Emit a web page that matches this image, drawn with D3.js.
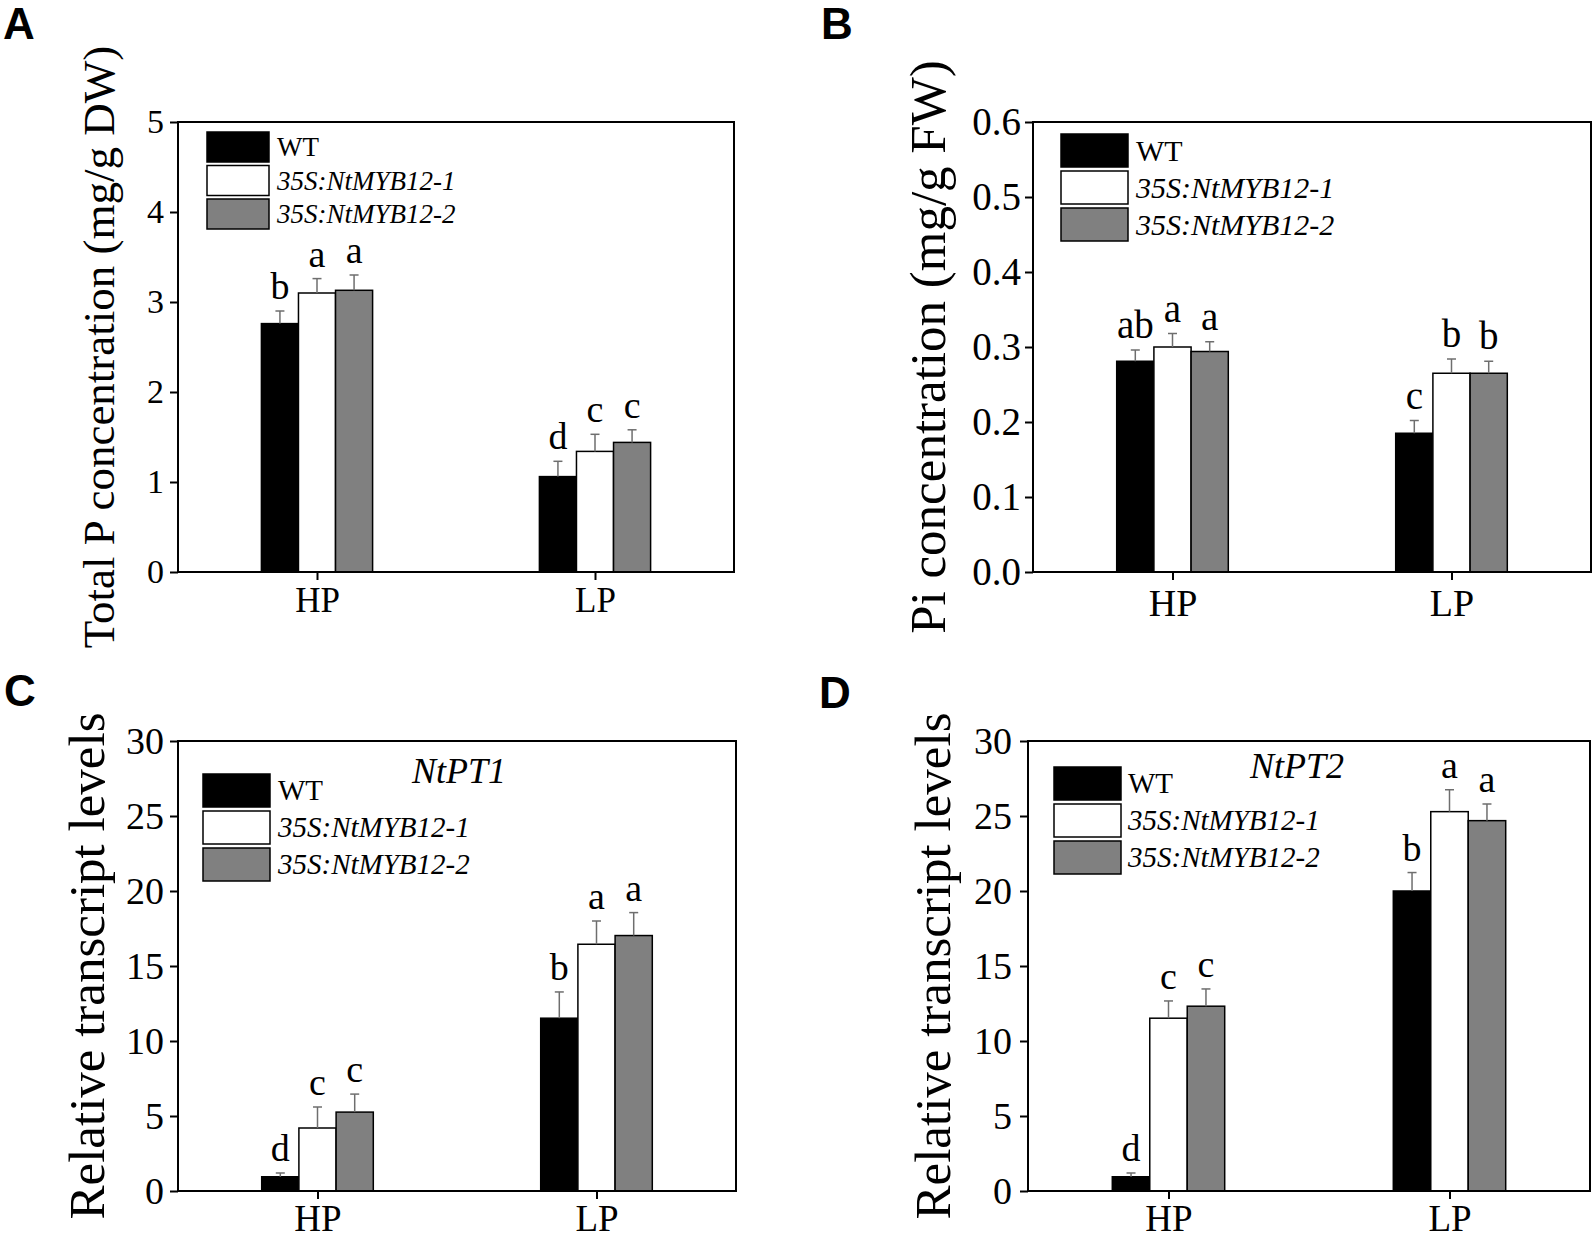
<!DOCTYPE html>
<html>
<head>
<meta charset="utf-8">
<script src="https://cdn.jsdelivr.net/npm/d3@7"></script>
<style>
  body { margin: 0; background: #fff; }
  text { font-family: "Liberation Serif", "Times New Roman", serif; fill: #000; }
  .panelLetter { font-family: "Liberation Sans", Arial, sans-serif; font-weight: bold; }
</style>
</head>
<body>
<svg id="fig" width="1594" height="1239"></svg>
<script>
"use strict";

// categories
const groups = [ 'HP', 'LP' ];
const lines  = [ 'WT', '35S:NtMYB12-1', '35S:NtMYB12-2' ];
const fills  = [ '#000000', '#ffffff', '#808080' ];

// A: total P (mg/g DW), rows = HP / LP, columns = lines
const totalPMean    = [ [ 2.76, 3.10, 3.13 ], [ 1.06, 1.34, 1.44 ] ];
const totalPErr     = [ [ 0.14, 0.16, 0.17 ], [ 0.17, 0.19, 0.14 ] ];
const totalPLetters = [ [ 'b', 'a', 'a' ], [ 'd', 'c', 'c' ] ];

// B: Pi (mg/g FW)
const piMean    = [ [ 0.281, 0.300, 0.294 ], [ 0.185, 0.265, 0.265 ] ];
const piErr     = [ [ 0.015, 0.018, 0.013 ], [ 0.017, 0.019, 0.016 ] ];
const piLetters = [ [ 'ab', 'a', 'a' ], [ 'c', 'b', 'b' ] ];

// C: NtPT1 relative transcript
const pt1Mean    = [ [ 0.95, 4.20, 5.26 ], [ 11.52, 16.45, 17.03 ] ];
const pt1Err     = [ [ 0.25, 1.40, 1.20 ], [ 1.75, 1.55, 1.53 ] ];
const pt1Letters = [ [ 'd', 'c', 'c' ], [ 'b', 'a', 'a' ] ];

// D: NtPT2 relative transcript
const pt2Mean    = [ [ 0.95, 11.52, 12.32 ], [ 20.00, 25.29, 24.69 ] ];
const pt2Err     = [ [ 0.25, 1.15, 1.15 ], [ 1.23, 1.46, 1.11 ] ];
const pt2Letters = [ [ 'd', 'c', 'c' ], [ 'b', 'a', 'a' ] ];

// tick values
const ticksA  = [ 0, 1, 2, 3, 4, 5 ];
const ticksB  = [ 0, 0.1, 0.2, 0.3, 0.4, 0.5, 0.6 ];
const ticksCD = [ 0, 5, 10, 15, 20, 25, 30 ];

// panel layout
const panels = [
  { key: 'A', lx: 3,   ly: 39,  x0: 178,  x1: 734,  y0: 122, y1: 572,  ticks: ticksA, fmt: d3.format( 'd' ),
    mean: totalPMean, err: totalPErr, letters: totalPLetters,
    tickFont: 34, tickPad: 6, catFont: 35, catY: 40, letterFont: 38,
    label: 'Total P concentration (mg/g DW)', labelFont: 45, labelX: 114,
    leg: { x: 207, y: 132, w: 62, h: 30, step: 33.5, tx: 277, font: 27 } },
  { key: 'B', lx: 821, ly: 39,  x0: 1033, x1: 1591, y0: 122, y1: 572,  ticks: ticksB, fmt: d3.format( '.1f' ),
    mean: piMean, err: piErr, letters: piLetters,
    tickFont: 39, tickPad: 4, catFont: 38, catY: 44, letterFont: 39,
    label: 'Pi concentration (mg/g FW)', labelFont: 51, labelX: 945,
    leg: { x: 1061, y: 134, w: 67, h: 33, step: 37, tx: 1136, font: 30 } },
  { key: 'C', lx: 4,   ly: 706, x0: 178,  x1: 736,  y0: 741, y1: 1191, ticks: ticksCD, fmt: d3.format( 'd' ),
    mean: pt1Mean, err: pt1Err, letters: pt1Letters,
    tickFont: 38, tickPad: 6, catFont: 37, catY: 40, letterFont: 38,
    label: 'Relative transcript levels', labelFont: 51, labelX: 104,
    title: 'NtPT1', titleX: 412, titleY: 783,
    leg: { x: 203, y: 774, w: 67, h: 33, step: 37, tx: 278, font: 29 } },
  { key: 'D', lx: 819, ly: 708, x0: 1028, x1: 1590, y0: 741, y1: 1191, ticks: ticksCD, fmt: d3.format( 'd' ),
    mean: pt2Mean, err: pt2Err, letters: pt2Letters,
    tickFont: 38, tickPad: 8, catFont: 37, catY: 40, letterFont: 38,
    label: 'Relative transcript levels', labelFont: 51, labelX: 950,
    title: 'NtPT2', titleX: 1250, titleY: 778,
    leg: { x: 1054, y: 767, w: 67, h: 33, step: 37, tx: 1128, font: 29 } },
];

const svg = d3.select( '#fig' );

panels.forEach( p => {

  const g = svg.append( 'g' ).attr( 'class', 'panel' );
  const w = p.x1 - p.x0;

  // scales
  const y = d3.scaleLinear()
              .domain( [ 0, p.ticks[ p.ticks.length - 1 ] ] )
              .range( [ p.y1, p.y0 ] );
  const x = d3.scalePoint()
              .domain( groups )
              .range( [ p.x0, p.x1 ] )
              .padding( 0.5 );
  const inner = d3.scaleBand()
              .domain( lines )
              .range( [ -0.1 * w, 0.1 * w ] );

  // flatten rows for binding
  const rows = [];
  groups.forEach( ( grp, gi ) => lines.forEach( ( ln, li ) => rows.push( {
    grp, ln, li, mean: p.mean[ gi ][ li ], err: p.err[ gi ][ li ], letter: p.letters[ gi ][ li ]
  } ) ) );

  // bars
  g.append( 'g' )
    .selectAll( 'rect' )
    .data( rows )
    .enter().append( 'rect' )
      .attr( 'x',      d => x( d.grp ) + inner( d.ln ) )
      .attr( 'y',      d => y( d.mean ) )
      .attr( 'width',  inner.bandwidth() )
      .attr( 'height', d => y( 0 ) - y( d.mean ) )
      .attr( 'fill',   d => fills[ d.li ] )
      .attr( 'stroke', '#000' )
      .attr( 'stroke-width', 1.5 );

  // error bars (upper only)
  const eb = g.append( 'g' )
    .attr( 'stroke', '#6e6e6e' )
    .attr( 'stroke-width', 1.5 )
    .selectAll( 'g' )
    .data( rows )
    .enter().append( 'g' )
      .attr( 'transform', d => `translate(${x( d.grp ) + inner( d.ln ) + inner.bandwidth() / 2},0)` );
  eb.append( 'line' )
      .attr( 'y1', d => y( d.mean ) )
      .attr( 'y2', d => y( d.mean + d.err ) );
  eb.append( 'line' )
      .attr( 'x1', -4.5 ).attr( 'x2', 4.5 )
      .attr( 'y1', d => y( d.mean + d.err ) )
      .attr( 'y2', d => y( d.mean + d.err ) );

  // significance letters
  g.append( 'g' )
    .selectAll( 'text' )
    .data( rows )
    .enter().append( 'text' )
      .attr( 'x', d => x( d.grp ) + inner( d.ln ) + inner.bandwidth() / 2 )
      .attr( 'y', d => y( d.mean + d.err ) - 12 )
      .attr( 'text-anchor', 'middle' )
      .style( 'font-size', p.letterFont + 'px' )
      .text( d => d.letter );

  // frame
  g.append( 'rect' )
    .attr( 'x', p.x0 ).attr( 'y', p.y0 )
    .attr( 'width', w ).attr( 'height', p.y1 - p.y0 )
    .attr( 'fill', 'none' )
    .attr( 'stroke', '#000' )
    .attr( 'stroke-width', 2 );

  // y axis
  const ya = g.append( 'g' )
    .attr( 'transform', `translate(${p.x0},0)` )
    .call( d3.axisLeft( y ).tickValues( p.ticks ).tickFormat( p.fmt )
             .tickSize( 8 ).tickSizeOuter( 0 ).tickPadding( p.tickPad ) );
  ya.select( '.domain' ).remove();
  ya.selectAll( 'line' ).attr( 'stroke-width', 2 );
  ya.selectAll( 'text' )
    .style( 'font-size', p.tickFont + 'px' )
    .style( 'font-family', '"Liberation Serif", serif' );

  // x axis
  const xa = g.append( 'g' )
    .attr( 'transform', `translate(0,${p.y1})` )
    .call( d3.axisBottom( x ).tickSize( 8 ).tickSizeOuter( 0 ) );
  xa.select( '.domain' ).remove();
  xa.selectAll( 'line' ).attr( 'stroke-width', 2 );
  xa.selectAll( 'text' )
    .attr( 'dy', null )
    .attr( 'y', p.catY )
    .style( 'font-size', p.catFont + 'px' )
    .style( 'font-family', '"Liberation Serif", serif' );

  // y label
  g.append( 'text' )
    .attr( 'transform', `translate(${p.labelX},${( p.y0 + p.y1 ) / 2}) rotate(-90)` )
    .attr( 'text-anchor', 'middle' )
    .style( 'font-size', p.labelFont + 'px' )
    .text( p.label );

  // legend
  const leg = g.append( 'g' )
    .selectAll( 'g' )
    .data( lines )
    .enter().append( 'g' );
  leg.append( 'rect' )
    .attr( 'x', p.leg.x )
    .attr( 'y', ( d, i ) => p.leg.y + i * p.leg.step )
    .attr( 'width', p.leg.w )
    .attr( 'height', p.leg.h )
    .attr( 'fill', ( d, i ) => fills[ i ] )
    .attr( 'stroke', '#000' )
    .attr( 'stroke-width', 1.5 );
  leg.append( 'text' )
    .attr( 'x', p.leg.tx )
    .attr( 'y', ( d, i ) => p.leg.y + i * p.leg.step + p.leg.h / 2 + p.leg.font * 0.34 )
    .style( 'font-size', p.leg.font + 'px' )
    .style( 'font-style', ( d, i ) => i ? 'italic' : 'normal' )
    .text( d => d );

  // gene title
  if( p.title ){
    g.append( 'text' )
      .attr( 'x', p.titleX )
      .attr( 'y', p.titleY )
      .style( 'font-size', '36px' )
      .style( 'font-style', 'italic' )
      .text( p.title );
  }

  // panel letter
  g.append( 'text' )
    .attr( 'class', 'panelLetter' )
    .attr( 'x', p.lx )
    .attr( 'y', p.ly )
    .style( 'font-size', '44px' )
    .text( p.key );

});
</script>
</body>
</html>
